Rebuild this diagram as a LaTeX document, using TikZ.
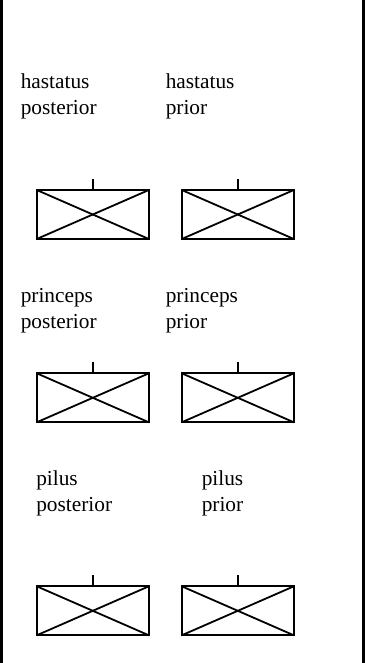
\documentclass[tikz,border=0pt]{standalone}
\usepackage{fontspec}
\setmainfont{Liberation Serif}
\usetikzlibrary{calc}
\begin{document}
\begin{tikzpicture}[x=0.75pt,y=-0.75pt,
  lbl/.style={anchor=base west,inner sep=0pt,align=left,font={\fontsize{16}{19.5}\selectfont}},
  unitbox/.style={draw,line width=1.5pt,minimum width=84.2pt,minimum height=36.8pt,inner sep=0pt,outer sep=0pt},
  xline/.style={line width=1.35pt},
  frame/.style={line width=2.6pt}]
\useasboundingbox (0,0) rectangle (366,663);
% side lines
\coordinate (lt) at (1.7,0); \coordinate (lb) at (1.7,663);
\coordinate (rt) at (363.5,0); \coordinate (rb) at (363.5,663);
\draw[frame] (lt) -- (lb);
\draw[frame] (rt) -- (rb);
% labels (anchor is the baseline of the last line)
\node[lbl] (l1a) at (20.5,114.5) {hastatus\\posterior};
\node[lbl] (l1b) at (165.5,114.5) {hastatus\\prior};
\node[lbl] (l2a) at (20.5,328) {princeps\\posterior};
\node[lbl] (l2b) at (165.5,328) {princeps\\prior};
\node[lbl] (l3a) at (36,511) {pilus\\posterior};
\node[lbl] (l3b) at (201.5,511) {pilus\\prior};
% boxes
\foreach \n/\x/\y in {b1a/92.8/214.5, b1b/237.8/214.5, b2a/92.8/397.8, b2b/237.8/397.8, b3a/92.8/610.8, b3b/237.8/610.8}{
  \node[unitbox] (\n) at (\x,\y) {};
  \draw[xline] (\n.north west) -- (\n.south east);
  \draw[xline] (\n.south west) -- (\n.north east);
  \coordinate (\n t) at ($(\n.north)+(0,-11)$);
  \draw[xline] (\n.north) -- (\n t);
}
\end{tikzpicture}
\end{document}
